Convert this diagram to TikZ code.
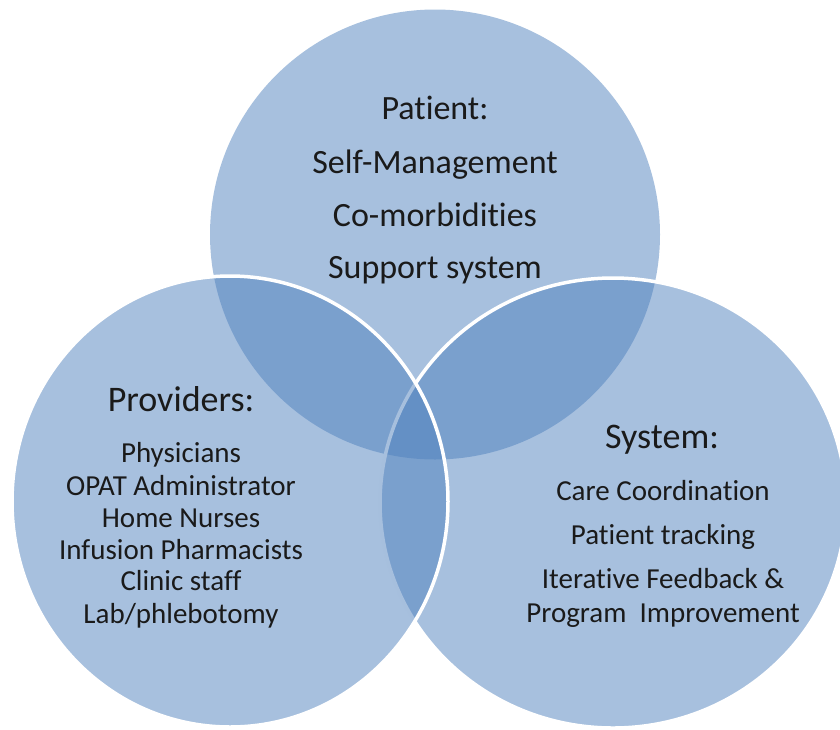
\documentclass[tikz,border=0pt]{standalone}
\usepackage{fontspec}
\setmainfont{Carlito}[Ligatures=NoCommon]
\definecolor{vennblue}{HTML}{4F81BD}
\definecolor{inktext}{HTML}{1A1A1A}
\begin{document}
\begin{tikzpicture}[x=1pt,y=-1pt,
  venn/.style={fill=vennblue, fill opacity=0.5},
  rim/.style={draw=white, line width=3.5pt, draw opacity=1},
  head/.style={anchor=base, text=inktext, inner sep=0pt, font=\fontsize{36}{40}\selectfont},
  ptext/.style={anchor=base, text=inktext, inner sep=0pt, font=\fontsize{34}{38}\selectfont},
  item/.style={anchor=base, text=inktext, inner sep=0pt, font=\fontsize{29}{33}\selectfont}]
\useasboundingbox (0,0) rectangle (840,729);
\clip (0,0) rectangle (840,729);

% three overlapping sets: patient on top, system right, providers left
\fill[venn] (435,234.5) circle[radius=225pt];
\path[venn, rim] (613,503) ellipse[x radius=233pt, y radius=225pt];
\path[venn, rim] (230,501.5) ellipse[x radius=218pt, y radius=225.5pt];

% patient
\node[ptext] (patient) at (435,119.5) {Patient:};
\node[ptext] (selfmgmt) at (435,173.5) {Self-Management};
\node[ptext] (comorb) at (435,226.5) {Co-morbidities};
\node[ptext] (support) at (435,278) {Support system};

% providers
\node[head] (providers) at (181,411) {Providers:};
\node[item] (phys) at (181,462.8) {Physicians};
\node[item] (opat) at (181,495.3) {OPAT Administrator};
\node[item] (nurses) at (181,527) {Home Nurses};
\node[item] (pharm) at (181,559) {Infusion Pharmacists};
\node[item] (clinic) at (181,590.7) {Clinic staff};
\node[item] (lab) at (181,623) {Lab/phlebotomy};

% system
\node[head] (system) at (662,448) {System:};
\node[item] (care) at (663,500) {Care Coordination};
\node[item] (track) at (663,544) {Patient tracking};
\node[item] (iter) at (663,588) {Iterative Feedback \&};
\node[item] (improve) at (663,622) {Program\ \ Improvement};
\end{tikzpicture}
\end{document}
